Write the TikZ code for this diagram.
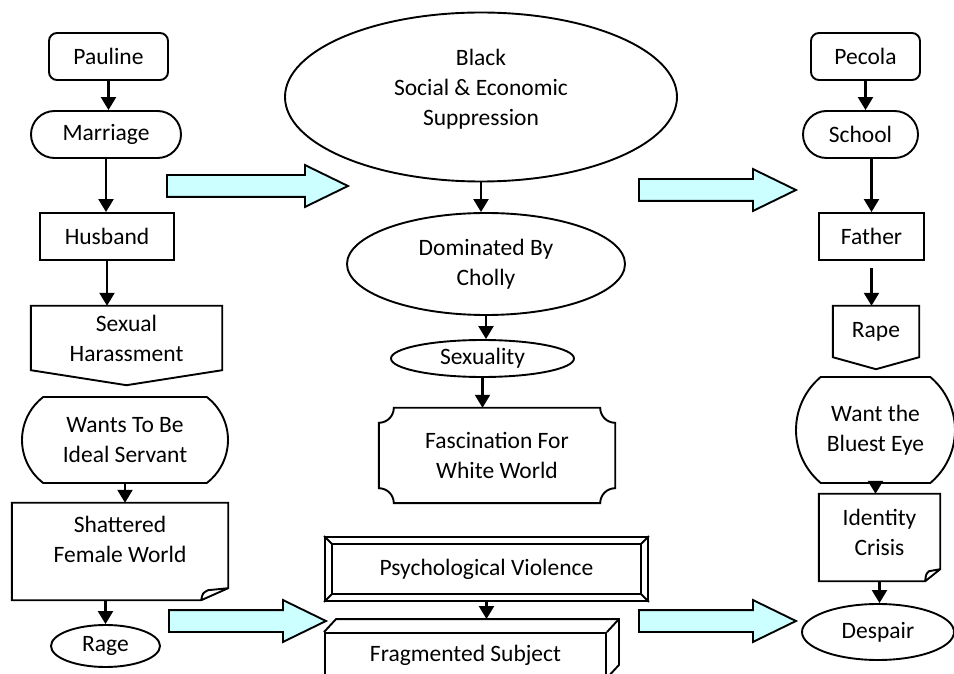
\documentclass[tikz,border=0pt]{standalone}
\usepackage{fontspec}
\setmainfont{Carlito}
\usepackage{tikz}
\usetikzlibrary{arrows.meta,calc,positioning,shapes.arrows,shapes.geometric,shapes.misc}
\definecolor{arrowcyan}{HTML}{CCFFFF}
\newcommand{\flowfont}{\fontsize{23.5}{30}\selectfont}
\tikzset{
  flowline/.style={draw=black, line width=1.9pt},
  flowarrow/.style={-{Triangle[length=13pt, width=15pt]}, line width=2.2pt},
  flowtext/.style={font=\flowfont, align=center, inner sep=0pt},
  flowbox/.style={flowtext, flowline, rectangle},
  flowround/.style={flowbox, rounded corners=8pt},
  flowterm/.style={flowtext, flowline, rounded rectangle},
  flowoval/.style={flowtext, flowline, ellipse},
  flowblank/.style={flowtext, rectangle},
  bigarrow/.style={single arrow, draw=black, line width=1.9pt, fill=arrowcyan,
    minimum width=40pt, single arrow head extend=10pt,
    single arrow tip angle=52, inner xsep=0pt, inner ysep=10pt, anchor=tail}
}

\begin{document}
\begin{tikzpicture}[x=1pt, y=1pt]
  \useasboundingbox (0,0) rectangle (954,673);
  \clip (0,0) rectangle (954,673);

  % Pauline column
  \node[flowround, minimum width=119, minimum height=47] (pauline)
    at (108.5,616.5) {Pauline};
  \node[flowterm, minimum width=150, minimum height=47] (marriage)
    at (106,538.5) {Marriage};
  \node[flowbox, minimum width=134, minimum height=47] (husband)
    at (107,436.5) {Husband};
  \node[flowblank, minimum width=191, minimum height=64] (harass)
    at (126.5,335) {Sexual\\Harassment};
  \node[flowterm, rounded rectangle arc length=105, minimum width=206,
    minimum height=86] (servant) at (125,233) {Wants To Be\\Ideal Servant};
  \node[flowblank, minimum width=216, minimum height=97] (shattered)
    at (120,121.5) {};
  \node[flowtext] (shatteredtext) at ([yshift=12.5]shattered.center)
    {Shattered\\Female World};
  \node[flowoval, minimum width=109, minimum height=42] (rage)
    at (105.5,27) {Rage};

  % middle column
  \node[flowoval, minimum width=392, minimum height=169] (suppress)
    at (481,576) {};
  \node[flowtext] (suppresstext) at ([yshift=8]suppress.center)
    {Black\\Social \& Economic\\Suppression};
  \node[flowoval, minimum width=278, minimum height=102] (dominated)
    at (486,409) {Dominated By\\Cholly};
  \node[flowoval, minimum width=183, minimum height=37] (sexuality)
    at (482.5,314.5) {Sexuality};
  \node[flowblank, minimum width=236, minimum height=95] (fascination)
    at (497,217.5) {Fascination For\\White World};
  \node[flowbox, minimum width=323, minimum height=64] (psych)
    at (486.5,104) {Psychological Violence};
  \node[flowbox, minimum width=281, minimum height=44] (frag)
    at (465.5,18) {Fragmented Subject};

  % Pecola column
  \node[flowround, minimum width=109, minimum height=47] (pecola)
    at (865.5,616.5) {Pecola};
  \node[flowterm, minimum width=115, minimum height=47] (school)
    at (860.5,538.5) {School};
  \node[flowbox, minimum width=105, minimum height=47] (father)
    at (871.5,436.5) {Father};
  \node[flowblank, minimum width=86, minimum height=51] (rape)
    at (876,341.5) {Rape};
  \node[flowterm, rounded rectangle arc length=100, minimum width=159,
    minimum height=106] (bluest) at (875.5,243) {Want the\\Bluest Eye};
  \node[flowblank, minimum width=121, minimum height=87] (identity)
    at (879.5,135.5) {};
  \node[flowtext] (identitytext) at ([yshift=5.5]identity.center)
    {Identity\\Crisis};
  \node[flowoval, minimum width=152, minimum height=56] (despair)
    at (878,41) {Despair};

  % outlines drawn by hand
  \foreach \n/\d in {harass/15, rape/12}
    \draw[flowline] (\n.north west) -- (\n.north east) -- (\n.south east)
      -- ([yshift=-\d]\n.south) -- (\n.south west) -- cycle;
  \foreach \n/\f in {shattered/27, identity/15}
    \draw[flowline] (\n.north west) -- (\n.north east)
      -- ([yshift=12]\n.south east) -- ([xshift=-\f]\n.south east)
      -- (\n.south west) -- cycle
      ([xshift=-\f]\n.south east) .. controls ([shift={(-0.95*\f,7)}]\n.south east)
      .. ([shift={(-0.75*\f,10)}]\n.south east) -- ([yshift=12]\n.south east);
  \draw[flowline] ([xshift=15]fascination.north west)
    -- ([xshift=-15]fascination.north east)
    arc[start angle=180, end angle=270, radius=15]
    -- ([yshift=15]fascination.south east)
    arc[start angle=90, end angle=180, radius=15]
    -- ([xshift=15]fascination.south west)
    arc[start angle=0, end angle=90, radius=15]
    -- ([yshift=-15]fascination.north west)
    arc[start angle=270, end angle=360, radius=15] -- cycle;
  \draw[flowline] ([shift={(8,-8)}]psych.north west)
    rectangle ([shift={(-8,8)}]psych.south east);
  \foreach \c/\dx/\dy in {north west/8/-8, north east/-8/-8,
      south east/-8/8, south west/8/8}
    \draw[flowline] (psych.\c) -- ([shift={(\dx,\dy)}]psych.\c);
  \coordinate (fragtop) at ([yshift=13]frag.north);
  \draw[flowline] (frag.north west) -- ++(12,13)
    -- ([shift={(12,13)}]frag.north east)
    -- ([shift={(12,13)}]frag.south east) -- (frag.south east);
  \draw[flowline] ([shift={(12,13)}]frag.north east) -- (frag.north east);

  % connectors
  \draw[flowarrow] (pauline.south) -- (pauline.south |- marriage.north);
  \draw[flowarrow] (marriage.south) -- (marriage.south |- husband.north);
  \draw[flowarrow] (husband.south) -- (husband.south |- harass.north);
  \draw[flowarrow] (servant.south) -- (servant.south |- shattered.north);
  \draw[flowarrow] (rage.north |- shattered.south) -- (rage.north);
  \draw[flowarrow] (suppress.south) -- (suppress.south |- dominated.north);
  \draw[flowarrow] (dominated.south) -- (dominated.south |- sexuality.north);
  \draw[flowarrow] (sexuality.south) -- (sexuality.south |- fascination.north);
  \draw[flowarrow] (psych.south) -- (psych.south |- fragtop);
  \draw[flowarrow] (pecola.south) -- (pecola.south |- school.north);
  \draw[flowarrow] (father.north |- school.south) -- (father.north);
  \draw[flowarrow] ([yshift=-7]father.south) -- (father.south |- rape.north);
  \draw[flowarrow] (bluest.south) -- (bluest.south |- identity.north);
  \draw[flowarrow] (identity.south) -- (identity.south |- despair.north);

  % block arrows between columns
  \node[bigarrow, minimum height=181] (flowa) at (166,487) {};
  \node[bigarrow, minimum height=157] (flowb) at (638,483) {};
  \node[bigarrow, minimum height=157] (flowc) at (168,52) {};
  \node[bigarrow, minimum height=157] (flowd) at (638,52) {};
\end{tikzpicture}
\end{document}
